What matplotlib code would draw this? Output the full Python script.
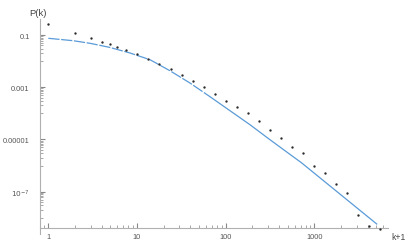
import matplotlib
matplotlib.use("Agg")
import matplotlib.pyplot as plt
from matplotlib.ticker import FixedLocator, NullFormatter, FixedFormatter

plt.rcParams['font.family'] = ['Liberation Sans', 'DejaVu Sans']

# Data points (k+1, P(k))
pts_x = [1, 2, 3, 4, 4.9, 6, 7.5, 10.1, 13.4, 17.9, 24, 32.4, 43.2, 57, 75.9, 101,
         134, 179, 238, 316, 421, 564, 745, 993, 1321, 1758, 2343, 3120, 4120, 5480]
pts_y = [0.271, 0.119, 0.0788, 0.0554, 0.0452, 0.0347, 0.0274, 0.01874, 0.0124, 0.00797,
         0.00508, 0.00302, 0.001687, 0.000993, 0.00055, 0.000305, 0.00018, 0.000103,
         4.97e-5, 2.37e-5, 1.17e-5, 5.3e-6, 3.03e-6, 9.9e-7, 5.07e-7, 1.98e-7, 8.7e-8,
         1.32e-8, 5.0e-9, 3.6e-9]

# Theory curve
line_x = [1, 1.91, 2.95, 4.88, 8.34, 14.0, 23.5, 39.6, 66.6, 112, 188, 316, 721, 5055]
line_y = [0.0748, 0.0605, 0.0481, 0.0338, 0.0205, 0.01135, 0.0043, 0.00145, 4.34e-4,
          1.26e-4, 3.68e-5, 9.8e-6, 1.26e-6, 5.8e-9]

x_ticks = [1, 10, 100, 1000]
x_labels = ["1", "10", "100", "1000"]
y_ticks = [0.1, 0.001, 0.00001, 1e-7]
y_labels = ["0.1", "0.001", "0.00001", r"$10^{-7}$"]

fig = plt.figure(figsize=(4.15, 2.51), dpi=100)
ax = fig.add_axes([40/415, 1-235/251, (388-40)/415, (235-20)/251])
ax.set_xscale('log')
ax.set_yscale('log')
ax.set_xlim(0.806, 6776)
ax.set_ylim(2.4e-9, 0.41)

axis_col = '#b0b0b0'
text_col = '#555555'
line_col = '#5a9bd8'

# dashed left part, solid right part
split = 9
ax.plot(line_x[:split], line_y[:split], color=line_col, lw=0.9, dashes=(9, 1.3), zorder=2)
ax.plot(line_x[split-1:], line_y[split-1:], color=line_col, lw=0.9, zorder=2)
ax.plot(pts_x, pts_y, 'o', color='#2a2a2a', ms=1.7, mew=0, zorder=3, clip_on=False)

for s in ['top', 'right']:
    ax.spines[s].set_visible(False)
ax.spines['bottom'].set_position(('data', 4e-9))
ax.spines['bottom'].set_color(axis_col)
ax.spines['left'].set_color(axis_col)
ax.spines['bottom'].set_linewidth(0.8)
ax.spines['left'].set_linewidth(0.8)

ax.xaxis.set_major_locator(FixedLocator(x_ticks))
ax.xaxis.set_major_formatter(FixedFormatter(x_labels))
xminor = [m * 10**e for e in range(-1, 4) for m in range(2, 10)]
xminor = [v for v in xminor if 0.806 < v < 6776]
ax.xaxis.set_minor_locator(FixedLocator(xminor))
ax.xaxis.set_minor_formatter(NullFormatter())

ax.yaxis.set_major_locator(FixedLocator(y_ticks))
ax.yaxis.set_major_formatter(FixedFormatter(y_labels))
yminor = []
for E in (-1, -3, -5, -7, -9):
    yminor += [m * 10**(E-1) for m in range(2, 10)]
    yminor.append(10**(E-1))
ax.yaxis.set_minor_locator(FixedLocator(yminor))
ax.yaxis.set_minor_formatter(NullFormatter())

ax.tick_params(axis='both', which='major', direction='in', length=3.5, width=0.8,
               color='#888888', labelsize=5.3, labelcolor=text_col, pad=3.5)
ax.tick_params(axis='both', which='minor', direction='in', length=2, width=0.6,
               color='#999999')
ax.tick_params(axis='y', which='major', pad=7.5)

fig.text(38/415, 1-13/251, "P(k)", ha='center', va='center', fontsize=6.8, color='#444444')
fig.text(398/415, 1-238/251, "k+1", ha='center', va='center', fontsize=6.2, color='#444444')

fig.savefig("out.png", dpi=100)
